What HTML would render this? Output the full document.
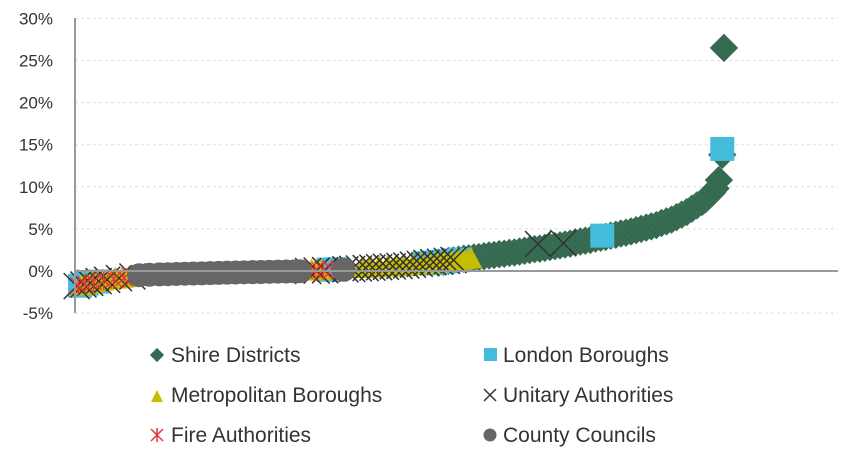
<!DOCTYPE html>
<html><head><meta charset="utf-8"><style>
body{margin:0;background:#fff;width:848px;height:456px;overflow:hidden;font-family:"Liberation Sans",sans-serif}
svg text{font-family:"Liberation Sans",sans-serif;fill:#333}
</style></head><body>
<svg id="chart" width="848" height="456" xmlns="http://www.w3.org/2000/svg">
<g id="grid"></g>
<g id="yticks"></g>
<g id="marks"></g>
<line x1="75" y1="18" x2="75" y2="313" stroke="#999" stroke-width="2"/>
<line x1="75" y1="271" x2="838" y2="271" stroke="#999" stroke-width="2"/>
<g font-size="21">
 <g><rect x="152" y="350" width="10" height="10" fill="#336a50" transform="rotate(45 157 355)"/><text x="171" y="362" font-size="21">Shire Districts</text></g>
 <g><rect x="484" y="348" width="13" height="13" fill="#46bcdc"/><text x="503" y="362" font-size="21">London Boroughs</text></g>
 <g><polygon points="151,402 157,390 163,402" fill="#c6bd00"/><text x="171" y="402" font-size="21">Metropolitan Boroughs</text></g>
 <g><path d="M484,389 L496,401 M496,389 L484,401" stroke="#333" stroke-width="1.5"/><text x="503" y="402" font-size="21">Unitary Authorities</text></g>
 <g><path d="M151,429 L163,441 M163,429 L151,441 M157,428 L157,442" stroke="#e8343c" stroke-width="1.5"/><text x="171" y="442" font-size="21">Fire Authorities</text></g>
 <g><circle cx="490" cy="435" r="6.5" fill="#666"/><text x="503" y="442" font-size="21">County Councils</text></g>
</g>
</svg>
<script>
const yTicks=[-5,0,5,10,15,20,25,30];
const shireRank=[215,218,221,224,227,230,233,236,239,242,245,248,251,254,257,260,263,266,269,272,275,278,281,284,287,290,293,296,299,302,305,308,311,314,317,320,323,326,329,332,335,338,341,344,347,350,353,356,359,362,365,368,371,373,375,377,379,381,383,384];
const shireVal=[1.0,1.1,1.2,1.25,1.35,1.45,1.5,1.6,1.65,1.75,1.85,1.9,2.0,2.05,2.15,2.2,2.3,2.4,2.5,2.6,2.65,2.75,2.85,2.95,3.05,3.15,3.25,3.4,3.5,3.6,3.7,3.85,3.95,4.05,4.2,4.3,4.45,4.55,4.7,4.85,5.0,5.15,5.3,5.45,5.7,5.9,6.1,6.4,6.7,7.0,7.4,7.8,8.2,8.5,8.9,9.3,9.8,10.8,13.8,26.5];
const londonRank=[3,7,13,150,154,206,210,213,217,221,228,312,383];
const londonVal=[-1.75,-1.5,-1.25,0.15,0.2,0.9,0.95,1.0,1.1,1.15,1.35,4.2,14.5];
const metroRank=[4,8,12,16,20,24,28,32,36,140,145,170,175,180,185,190,195,200,205,210,214,218,222,226,230,234];
const metroVal=[-1.7,-1.5,-1.3,-1.15,-1.0,-0.9,-0.8,-0.7,-0.6,0.05,0.1,0.35,0.4,0.45,0.5,0.55,0.6,0.7,0.8,0.9,1.0,1.1,1.2,1.3,1.4,1.5];
const unitRank=[1,5,9,14,19,26,34,138,143,148,160,164,168,172,176,180,184,188,192,196,200,204,208,212,216,220,224,274,289];
const unitVal=[-1.8,-1.6,-1.4,-1.2,-1.05,-0.85,-0.65,0.0,0.05,0.1,0.2,0.25,0.3,0.35,0.4,0.45,0.5,0.55,0.6,0.65,0.75,0.85,0.95,1.05,1.1,1.2,1.3,3.2,3.3];
const fireRank=[2,6,11,17,23,29,35,41,48,57,66,75,84,93,102,111,120,129,136,142,147,152,157];
const fireVal=[-1.75,-1.55,-1.3,-1.1,-0.95,-0.8,-0.65,-0.55,-0.45,-0.38,-0.32,-0.28,-0.24,-0.2,-0.16,-0.12,-0.08,-0.04,0.0,0.05,0.1,0.15,0.2];
const countyRank=[38,44,50,55,60,65,70,75,80,85,90,95,100,105,110,115,120,125,130,133,159];
const countyVal=[-0.5,-0.45,-0.4,-0.38,-0.35,-0.32,-0.3,-0.28,-0.25,-0.23,-0.2,-0.18,-0.16,-0.14,-0.12,-0.1,-0.08,-0.06,-0.05,-0.03,0.15];

const NS="http://www.w3.org/2000/svg";
function xS(r){return 75+r*1.69;}
function yS(v){return 271-v*8.42;}
function mk(tag,attrs,parent){const e=document.createElementNS(NS,tag);for(const k in attrs)e.setAttribute(k,attrs[k]);parent.appendChild(e);return e;}
const grid=document.getElementById('grid'),yt=document.getElementById('yticks'),marks=document.getElementById('marks');
yTicks.forEach(t=>{
 const y=yS(t);
 if(t!==0){const l=mk('line',{x1:75,x2:838,y1:y,y2:y,stroke:'#ddd','stroke-dasharray':'3,3'},grid);
 
 }
 const tx=mk('text',{x:53,y:y+6,'text-anchor':'end','font-size':'17'},yt);
 tx.textContent=t+'%';
 
 
});
function series(name,ranks,vals,draw){
 const g=mk('g',{},marks);
 
 
 ranks.forEach((r,i)=>{const el=draw(xS(r),yS(vals[i]),g);
  
  });
}
series('shire',shireRank,shireVal,(x,y,g)=>mk('polygon',{points:`${x},${y-14} ${x+14},${y} ${x},${y+14} ${x-14},${y}`,fill:'#336a50',stroke:'#4a7a62','stroke-width':0.5},g));
series('london',londonRank,londonVal,(x,y,g)=>mk('rect',{x:x-12,y:y-12,width:24,height:24,fill:'#46bcdc'},g));
series('metropolitan',metroRank,metroVal,(x,y,g)=>mk('polygon',{points:`${x-12},${y+10} ${x},${y-12} ${x+12},${y+10}`,fill:'#c6bd00'},g));
series('unitary',unitRank,unitVal,(x,y,g)=>mk('path',{d:`M${x-13},${y-13}L${x+13},${y+13}M${x+13},${y-13}L${x-13},${y+13}`,stroke:'#333','stroke-width':1.5,fill:'none'},g));
series('fire',fireRank,fireVal,(x,y,g)=>mk('path',{d:`M${x-8},${y-8}L${x+8},${y+8}M${x+8},${y-8}L${x-8},${y+8}M${x},${y-10}L${x},${y+10}`,stroke:'#e8343c','stroke-width':1.3,fill:'none'},g));
series('county',countyRank,countyVal,(x,y,g)=>mk('circle',{cx:x,cy:y,r:12,fill:'#666'},g));
</script>
</body></html>
